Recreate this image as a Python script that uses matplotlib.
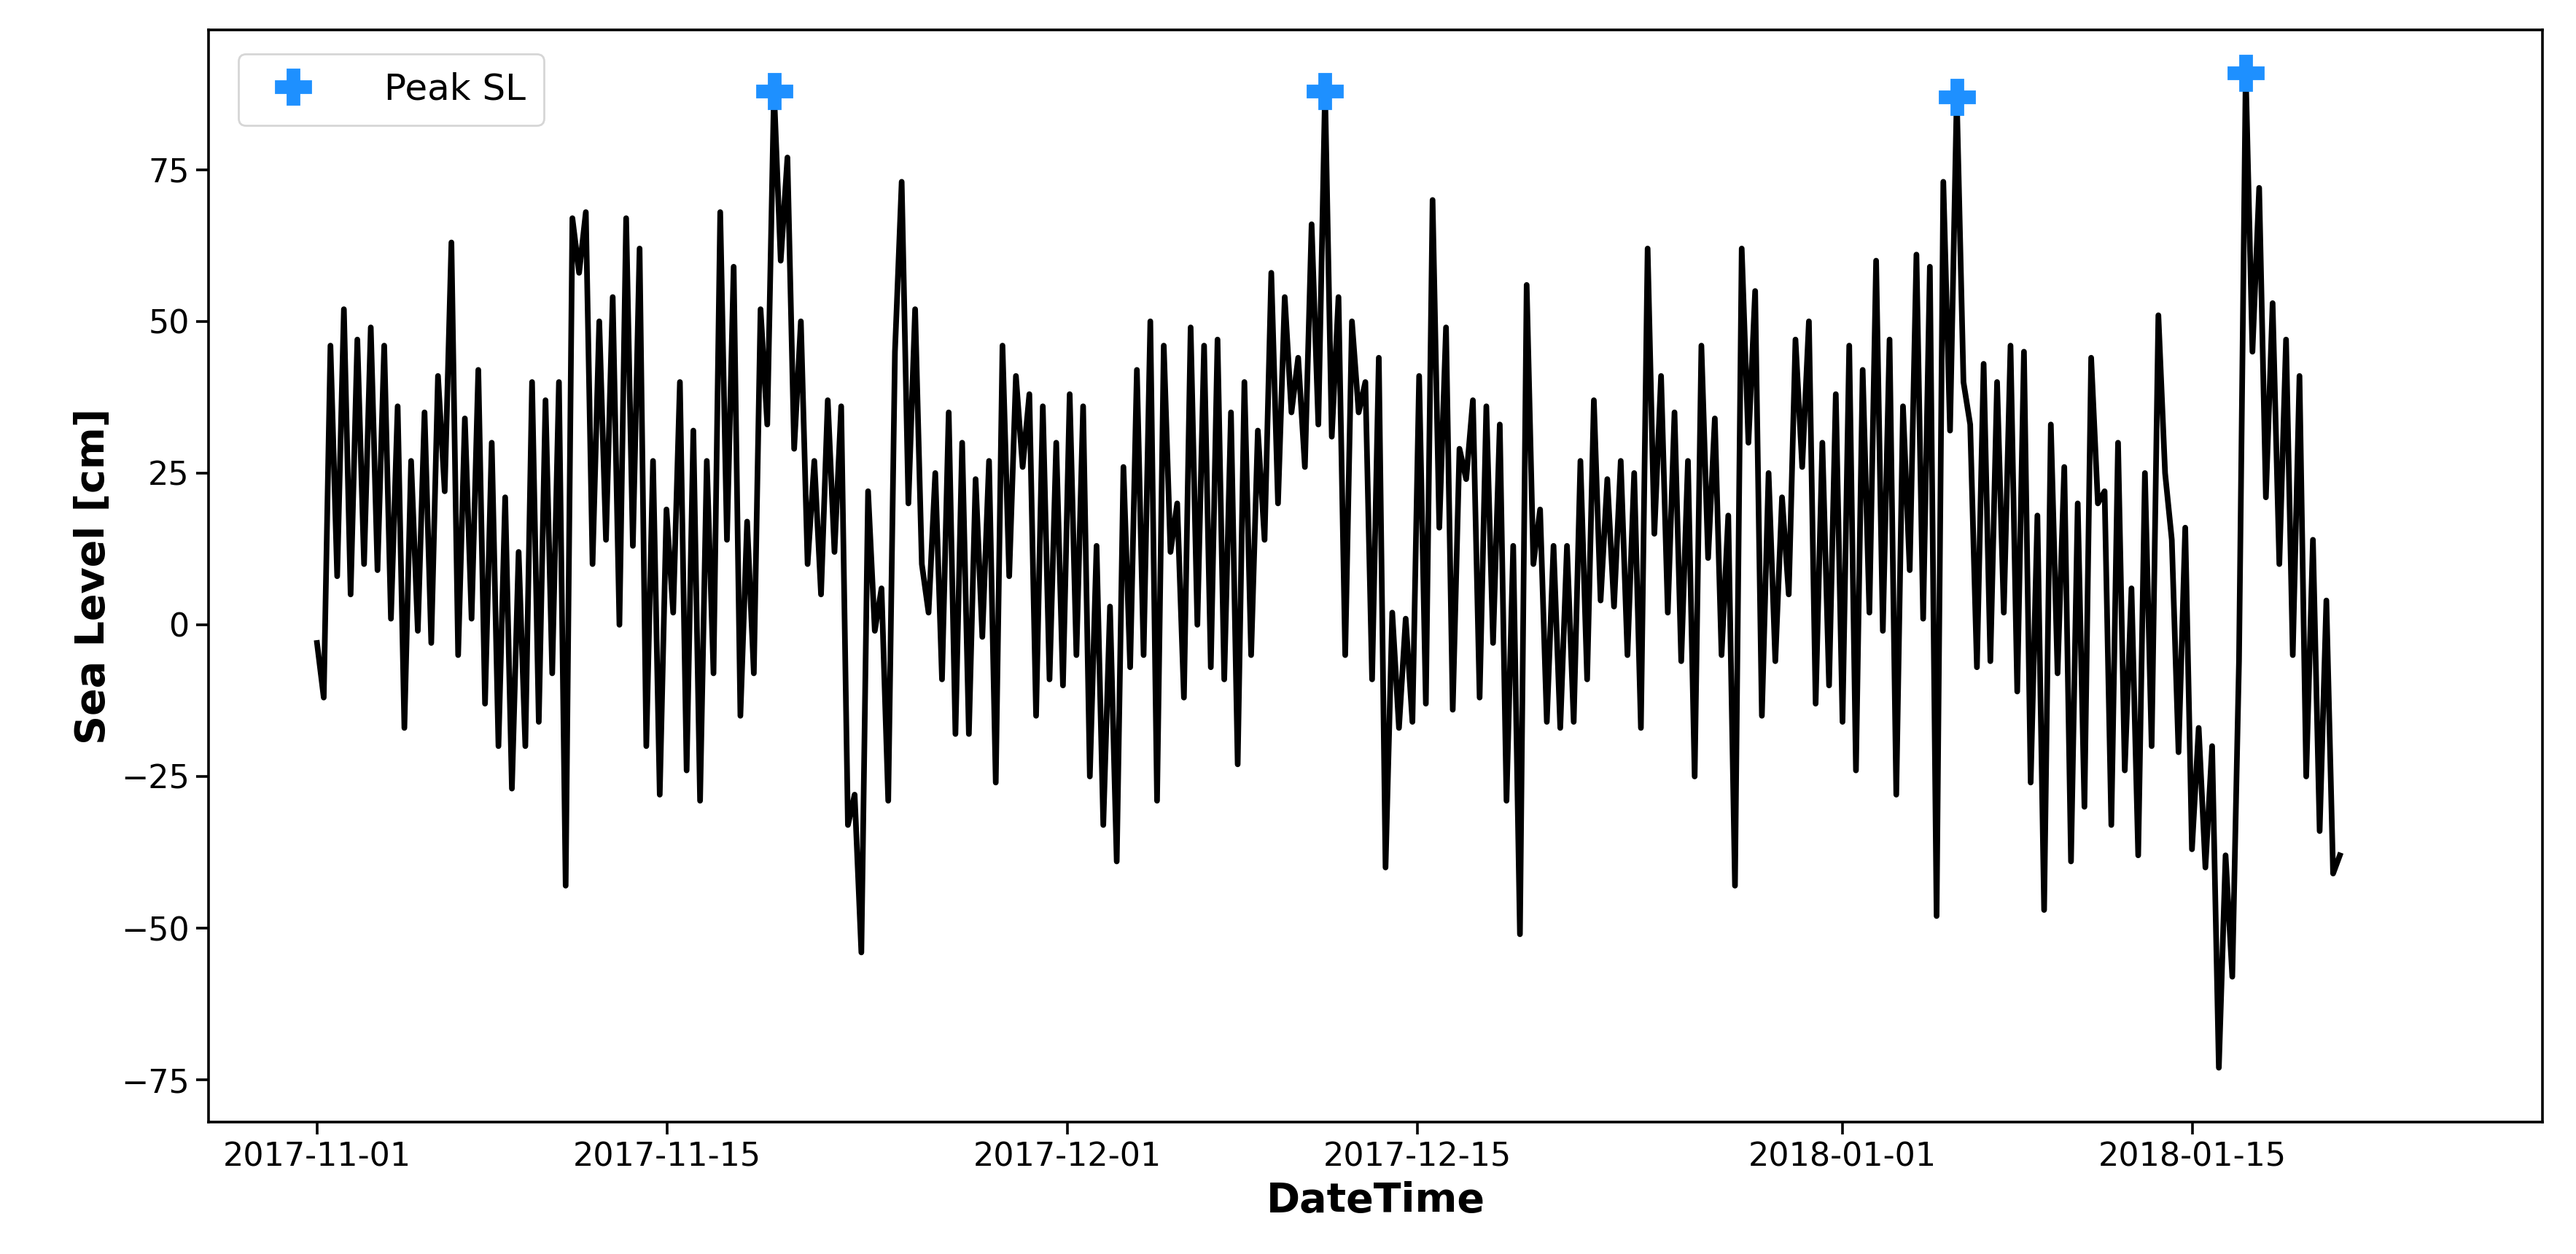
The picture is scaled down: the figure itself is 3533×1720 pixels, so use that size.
import numpy as np
import pandas as pd
import matplotlib
matplotlib.use("Agg")
import matplotlib.pyplot as plt

start = "2017-11-01 00:00"
step_hours = 6.45
sea_level = [
 -3,-12,46,8, 52,5,47,10, 49,9,46,1, 36,-17,27,-1, 35,-3,41,22,
 63,-5,34,1, 42,-13,30,-20, 21,-27,12,-20, 40,-16, 37,-8,40,-43,
 67,58,68,10, 50,14,54,0, 67,13,62,-20, 27,-28,19,2, 40,-24,32,-29,
 27,-8,68,14, 59,-15,17,-8, 52,33,88,60, 77,29,50,10, 27,5,37,12,
 36,-33,-28,-54, 22,-1,6,-29, 45,73,20,52, 10,2,25,-9, 35,-18,30,-18,
 24,-2,27,-26, 46,8,41,26, 38,-15,36,-9, 30,-10, 38,-5,36,-25, 13,-33,3,-39,
 26,-7,42,-5, 50,-29,46,12, 20,-12, 49,0,46,-7, 47,-9,35,-23, 40,-5, 32,14,58,20,
 54,35,44,26, 66,33,88,31, 54,-5,50,35, 40,-9,44,-40, 2,-17,1,-16,
 41,-13,70,16, 49,-14,29,24, 37,-12,36,-3, 33,-29,13,-51, 56,10,19,-16,
 13,-17,13,-16, 27,-9,37,4, 24,3,27,-5, 25,-17,62,15, 41,2,35,-6,
 27,-25,46,11, 34,-5,18,-43, 62,30,55,-15, 25,-6,21,5, 47,26,50,-13, 30,-10,
 38,-16,46,-24, 42,2,60,-1, 47,-28,36,9, 61,1,59,-48, 73,32,87,40,
 33,-7,43,-6, 40,2,46,-11, 45,-26,18,-47, 33,-8,26,-39, 20,-30, 44,20,22,-33,
 30,-24,6,-38, 25,-20, 51,25,14,-21, 16,-37,-17,-40, -20,-73,-38,-58, -6,91,
 45,72,21,53,10,47,-5,41,-25,14,-34,4,-41,-38,
]
peak_threshold = 86

t = pd.Timestamp(start) + pd.to_timedelta(np.arange(len(sea_level)) * step_hours, unit="h")
s = pd.Series(sea_level, index=t)
peaks = s[s >= peak_threshold]

fig = plt.figure(figsize=(17.665, 8.6), dpi=200)
ax = fig.add_axes([0.081, 0.105, 0.906, 0.871])
ax.plot(s.index, s.values, color="black", lw=2.8)
ax.plot(peaks.index, peaks.values, "P", color="dodgerblue", ms=17, ls="none", label="Peak SL")
ax.set_ylim(-82, 98)
ax.set_yticks([-75, -50, -25, 0, 25, 50, 75])
ticks = pd.to_datetime(["2017-11-01", "2017-11-15", "2017-12-01", "2017-12-15", "2018-01-01", "2018-01-15"])
ax.set_xticks(ticks)
ax.set_xticklabels([d.strftime("%Y-%m-%d") for d in ticks])
ax.set_xlim(pd.Timestamp("2017-10-27 16:00"), pd.Timestamp("2018-01-29 00:00"))
ax.tick_params(labelsize=16, length=6, width=1.3)
for sp in ax.spines.values():
    sp.set_linewidth(1.3)
ax.set_xlabel("DateTime", fontsize=20, fontweight="bold", labelpad=4)
ax.set_ylabel("Sea Level [cm]", fontsize=20, fontweight="bold", labelpad=4)
ax.legend(loc="upper left", fontsize=18, borderpad=0.5, handletextpad=1.5, bbox_to_anchor=(0.005, 0.995))
fig.savefig("out.png", dpi=200)
